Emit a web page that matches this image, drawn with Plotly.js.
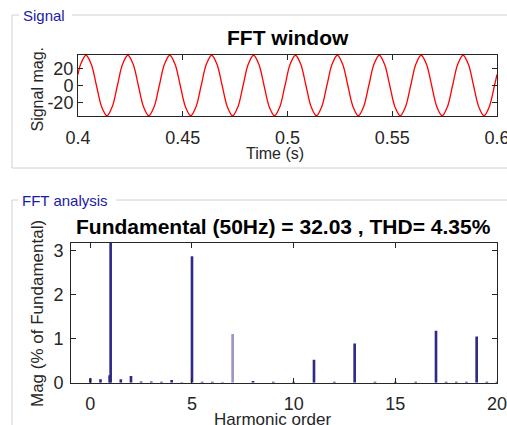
<!DOCTYPE html>
<html><head><meta charset="utf-8">
<script src="https://cdn.plot.ly/plotly-3.0.1.min.js"></script>
<style>html,body{margin:0;padding:0;background:#fff}#c{width:507px;height:425px}</style>
</head><body><div id="c"></div>
<script>
// ---- Signal (FFT window) ----
const sigTime = [0.4000,0.4013,
 0.4038,0.4063,0.4088,0.4113,0.4138,0.4163,0.4188,0.4213,
 0.4238,0.4263,0.4288,0.4313,0.4338,0.4363,0.4388,0.4413,
 0.4438,0.4463,0.4488,0.4513,0.4538,0.4563,0.4588,0.4613,
 0.4638,0.4663,0.4688,0.4713,0.4738,0.4763,0.4788,0.4813,
 0.4838,0.4863,0.4888,0.4913,0.4938,0.4963,0.4988,0.5013,
 0.5038,0.5063,0.5088,0.5113,0.5138,0.5163,0.5188,0.5213,
 0.5238,0.5263,0.5288,0.5313,0.5338,0.5363,0.5388,0.5413,
 0.5438,0.5463,0.5488,0.5513,0.5538,0.5563,0.5588,0.5613,
 0.5638,0.5663,0.5688,0.5713,0.5738,0.5763,0.5788,0.5813,
 0.5838,0.5863,0.5888,0.5913,0.5938,0.5963,0.5988,0.6000];
const sigValue = [13.2,25.5,
 36,25.5,0,-25.5,-36,-25.5,0,25.5,
 36,25.5,0,-25.5,-36,-25.5,0,25.5,
 36,25.5,0,-25.5,-36,-25.5,0,25.5,
 36,25.5,0,-25.5,-36,-25.5,0,25.5,
 36,25.5,0,-25.5,-36,-25.5,0,25.5,
 36,25.5,0,-25.5,-36,-25.5,0,25.5,
 36,25.5,0,-25.5,-36,-25.5,0,25.5,
 36,25.5,0,-25.5,-36,-25.5,0,25.5,
 36,25.5,0,-25.5,-36,-25.5,0,25.5,
 36,25.5,0,-25.5,-36,-25.5,0,13.2];
const sigXTicks = [0.4,0.45,0.5,0.55,0.6];
const sigXTickText = ['0.4','0.45','0.5','0.55','0.6'];
const sigYTicks = [-20,0,20];
const sigYTickText = ['-20','0','20'];

// ---- FFT analysis ----
const harmOrder = [0,0.5,0.95,1,1.5,2,2.5,3,3.5,4,4.5,5,5.5,6,6.5,7,8,9,10,11,12,13,14,15,16,17,17.5,18,18.5,19,19.5,20];
const harmMag   = [0.1,0.08,0.17,100,0.08,0.15,0.03,0.03,0.02,0.06,0.01,2.88,0.02,0.02,0.01,1.11,0.04,0.02,0.02,0.52,0.02,0.89,0.02,0.02,0.02,1.18,0.02,0.02,0.02,1.05,0.02,0.02];
const fftXTicks = [0,5,10,15,20];
const fftYTicks = [0,1,2,3];

const W = 507, H = 425;
const px = x => x / W;
const py = y => 1 - y / H;
const FONT = 'Liberation Sans, Arial, sans-serif';
const AX = '#262626';
const BAR = '#2e2a87';
const barColors = harmOrder.map(h => h === 7 ? '#9996c6' : BAR);

const axisCommon = {
  showline: true, linecolor: AX, linewidth: 1, mirror: 'ticks',
  ticks: 'inside', ticklen: 5, tickcolor: AX, showgrid: false, zeroline: false,
  tickfont: {family: FONT, size: 18, color: AX}, fixedrange: true,
  ticklabeloverflow: 'allow'
};

const data = [
  {x: sigTime, y: sigValue, type: 'scatter', mode: 'lines',
   line: {color: '#ff0000', width: 1.3, shape: 'spline'},
   xaxis: 'x', yaxis: 'y', hoverinfo: 'skip'},
  {x: harmOrder, y: harmMag, type: 'bar', width: 0.13,
   marker: {color: barColors, line: {width: 0}},
   xaxis: 'x2', yaxis: 'y2', hoverinfo: 'skip'}
];

const layout = {
  width: W, height: H, margin: {l: 0, r: 0, t: 0, b: 0},
  paper_bgcolor: '#ffffff', plot_bgcolor: '#ffffff', showlegend: false,
  xaxis: Object.assign({}, axisCommon, {domain: [px(78), px(497)], range: [0.4, 0.6],
    tickvals: sigXTicks, ticktext: sigXTickText, anchor: 'y', ticklabelstandoff: 5}),
  yaxis: Object.assign({}, axisCommon, {domain: [py(116), py(55)], range: [-36.3, 36.3],
    tickvals: sigYTicks, ticktext: sigYTickText, anchor: 'x', ticklabelstandoff: 0}),
  xaxis2: Object.assign({}, axisCommon, {domain: [px(71), px(497)], range: [-0.95, 20],
    tickvals: fftXTicks, anchor: 'y2', ticklabelstandoff: 5}),
  yaxis2: Object.assign({}, axisCommon, {domain: [py(382.7), py(243)], range: [0, 3.18],
    tickvals: fftYTicks, anchor: 'x2', ticklabelstandoff: 3}),
  shapes: [
    // Signal group box
    {type: 'line', xref: 'paper', yref: 'paper', x0: px(12), x1: px(19), y0: py(15), y1: py(15), line: {color: '#d0d0d0', width: 1}},
    {type: 'line', xref: 'paper', yref: 'paper', x0: px(72), x1: px(510), y0: py(15), y1: py(15), line: {color: '#d0d0d0', width: 1}},
    {type: 'line', xref: 'paper', yref: 'paper', x0: px(12), x1: px(12), y0: py(15), y1: py(168), line: {color: '#d0d0d0', width: 1}},
    {type: 'line', xref: 'paper', yref: 'paper', x0: px(12), x1: px(510), y0: py(168), y1: py(168), line: {color: '#d0d0d0', width: 1}},
    // FFT analysis group box
    {type: 'line', xref: 'paper', yref: 'paper', x0: px(12), x1: px(18), y0: py(200), y1: py(200), line: {color: '#d0d0d0', width: 1}},
    {type: 'line', xref: 'paper', yref: 'paper', x0: px(116), x1: px(510), y0: py(200), y1: py(200), line: {color: '#d0d0d0', width: 1}},
    {type: 'line', xref: 'paper', yref: 'paper', x0: px(12), x1: px(12), y0: py(200), y1: py(430), line: {color: '#d0d0d0', width: 1}}
  ],
  annotations: [
    {text: 'Signal', xref: 'paper', yref: 'paper', x: px(21), y: py(16), xanchor: 'left', yanchor: 'middle', showarrow: false,
     font: {family: FONT, size: 15, color: '#1a1aa6'}},
    {text: 'FFT analysis', xref: 'paper', yref: 'paper', x: px(20), y: py(201), xanchor: 'left', yanchor: 'middle', showarrow: false,
     font: {family: FONT, size: 15, color: '#1a1aa6'}},
    {text: '<b>FFT window</b>', xref: 'paper', yref: 'paper', x: px(287.5), y: py(38), xanchor: 'center', yanchor: 'middle', showarrow: false,
     font: {family: FONT, size: 21, color: '#000'}},
    {text: '<b>Fundamental (50Hz) = 32.03 , THD= 4.35%</b>', xref: 'paper', yref: 'paper', x: px(283.5), y: py(226), xanchor: 'center', yanchor: 'middle', showarrow: false,
     font: {family: FONT, size: 21, color: '#000'}},
    {text: 'Signal mag.', xref: 'paper', yref: 'paper', x: px(37), y: py(89.5), xanchor: 'center', yanchor: 'middle', textangle: -90, showarrow: false,
     font: {family: FONT, size: 16, color: AX}},
    {text: 'Time (s)', xref: 'paper', yref: 'paper', x: px(275), y: py(154), xanchor: 'center', yanchor: 'middle', showarrow: false,
     font: {family: FONT, size: 16, color: AX}},
    {text: 'Mag (% of Fundamental)', xref: 'paper', yref: 'paper', x: px(37), y: py(314), xanchor: 'center', yanchor: 'middle', textangle: -90, showarrow: false,
     font: {family: FONT, size: 17, color: AX}},
    {text: 'Harmonic order', xref: 'paper', yref: 'paper', x: px(272.5), y: py(419), xanchor: 'center', yanchor: 'middle', showarrow: false,
     font: {family: FONT, size: 17, color: AX}}
  ]
};

Plotly.newPlot('c', data, layout, {staticPlot: true, displayModeBar: false});
</script>
</body></html>
